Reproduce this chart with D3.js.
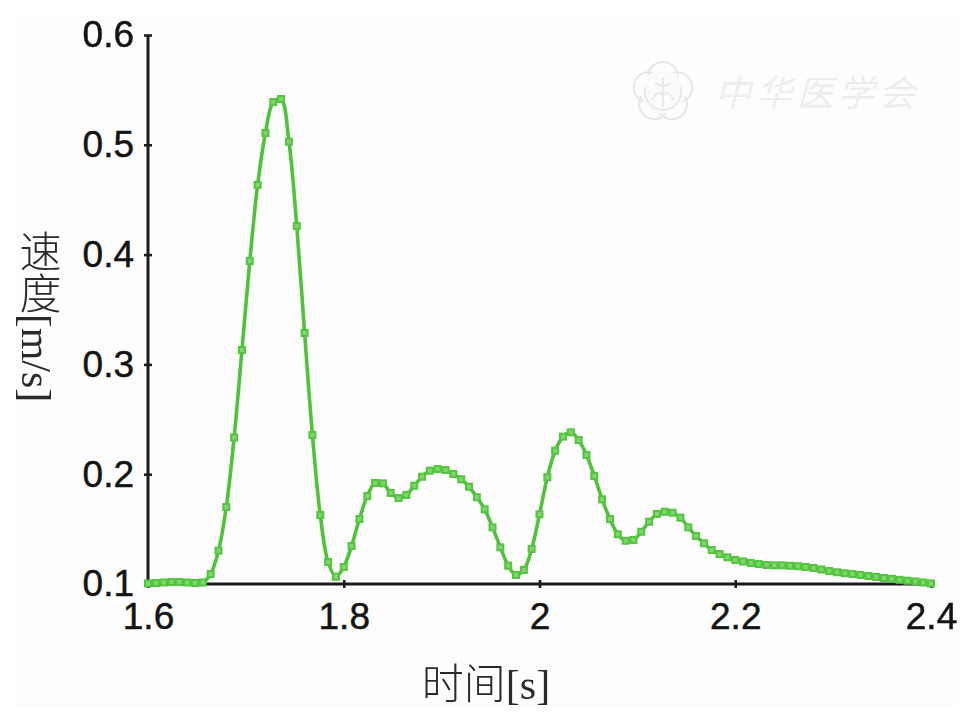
<!DOCTYPE html>
<html><head><meta charset="utf-8">
<script src="https://cdn.jsdelivr.net/npm/d3@7"></script>
<style>html,body{margin:0;padding:0;background:#fff}svg{display:block;filter:blur(.5px)}</style>
</head><body><svg id="c" width="973" height="715"></svg>
<script>
const xTickValues = [1.6, 1.8, 2.0, 2.2, 2.4];
const yTickValues = [0.1, 0.2, 0.3, 0.4, 0.5, 0.6];
const xLabel = "时间[s]";
const yLabel = "速度[m/s]";
const watermarkText = "中华医学会";
const sampleStep = 0.008;
const speed = [
0.1005,0.1009,0.1014,0.1018,0.1018,0.1014,0.1009,0.1014,0.1091,0.1303,
0.1701,0.2334,0.3131,0.3942,0.4634,0.5107,0.5390,0.5417,0.5028,0.4260,
0.3286,0.2357,0.1628,0.1200,0.1066,0.1155,0.1346,0.1592,0.1801,0.1920,
0.1917,0.1829,0.1783,0.1811,0.1895,0.1977,0.2032,0.2047,0.2038,0.2002,
0.1954,0.1886,0.1790,0.1680,0.1516,0.1334,0.1167,0.1082,0.1128,0.1319,
0.1635,0.1972,0.2214,0.2342,0.2382,0.2311,0.2175,0.1984,0.1771,0.1592,
0.1453,0.1394,0.1401,0.1476,0.1567,0.1638,0.1658,0.1649,0.1604,0.1516,
0.1437,0.1371,0.1310,0.1273,0.1243,0.1219,0.1205,0.1191,0.1182,0.1173,
0.1170,0.1170,0.1166,0.1162,0.1155,0.1146,0.1132,0.1118,0.1107,0.1098,
0.1091,0.1082,0.1073,0.1064,0.1055,0.1047,0.1038,0.1030,0.1023,0.1014,
0.1005];
const series = speed.map((v,i)=>({t:1.6+i*sampleStep,v}));

const svg = d3.select("#c");
svg.append("rect").attr("x",14).attr("y",16).attr("width",944).attr("height",691).attr("fill","#fdfdfd");

const x = d3.scaleLinear().domain([1.6,2.4]).range([148,931]);
const y = d3.scaleLinear().domain([0.1,0.6]).range([584,35]);
const fmt = d => String(+d.toFixed(1));

// watermark
const wm = svg.append("g").attr("transform","translate(663,92)");
const petals = d3.range(5).map(i=>i*72-90);
wm.selectAll("circle.p").data(petals).join("circle").attr("class","p")
  .attr("cx",d=>15*Math.cos(d*Math.PI/180)).attr("cy",d=>15*Math.sin(d*Math.PI/180))
  .attr("r",15).attr("fill","none").attr("stroke","#e6e6e6").attr("stroke-width",2);
wm.append("circle").attr("r",22).attr("fill","#fbfbfb");
wm.append("path").attr("d","M-17,-6A18,18 0 1 0 17,-6M0,-14V16M-8,-9Q0,-3 8,-9M-11,8Q-4,-4 0,4Q4,-4 11,8")
  .attr("fill","none").attr("stroke","#e8e8e8").attr("stroke-width",1.8);
svg.append("text").attr("x",715).attr("y",106).text(watermarkText)
  .attr("font-family","'Noto Sans CJK SC'").attr("font-size",36).attr("font-weight",300).attr("font-style","italic")
  .attr("letter-spacing",5).attr("fill","#f0f0f0").attr("stroke","#e6e6e6").attr("stroke-width",.4);

// axes
const xAxis = d3.axisBottom(x).tickValues(xTickValues).tickFormat(fmt).tickSize(4).tickPadding(15);
const yAxis = d3.axisLeft(y).tickValues(yTickValues).tickFormat(fmt).tickSize(4).tickPadding(12);
const style = g => {
  g.select(".domain").attr("stroke","#1d1a22").attr("stroke-width",3);
  g.selectAll(".tick line").attr("stroke","#1d1a22").attr("stroke-width",2.6);
  g.selectAll("text").attr("font-family","'Liberation Sans',Arial,sans-serif").attr("font-size",37)
    .attr("fill","#141414").attr("stroke","#141414").attr("stroke-width",.5);
};
svg.append("g").attr("transform","translate(0,584)").call(xAxis).call(style)
  .call(g=>{g.select(".domain").attr("d","M148,0H931");g.selectAll(".tick line").attr("y1",-4).attr("y2",4);});
svg.append("g").attr("transform","translate(148,0)").call(yAxis).call(style)
  .call(g=>{g.select(".domain").attr("d","M0,35V584");g.selectAll(".tick line").attr("x1",-4).attr("x2",4);
    g.selectAll("text").attr("x",-14);});

// series
const line = d3.line().x(d=>x(d.t)).y(d=>y(d.v)).curve(d3.curveCatmullRom);
svg.append("path").datum(series).attr("d",line).attr("fill","none").attr("stroke","#4fc23a").attr("stroke-width",3.6);
svg.append("g").selectAll("rect").data(series).join("rect")
  .attr("x",d=>x(d.t)-3).attr("y",d=>y(d.v)-3).attr("width",6).attr("height",6)
  .attr("fill","#7fd56e").attr("stroke","#55c440").attr("stroke-width",2);

// labels
const serif = "'Liberation Serif','Noto Sans CJK SC',serif";
svg.append("text").attr("x",486).attr("y",699).attr("text-anchor","middle").text(xLabel)
  .attr("font-family",serif).attr("font-size",42).attr("font-weight",300).attr("fill","#2a2a2a");
svg.append("text").attr("x",36).attr("y",316).attr("text-anchor","middle").text(yLabel)
  .style("writing-mode","vertical-rl").style("text-orientation","mixed")
  .attr("font-family",serif).attr("font-size",42).attr("font-weight",300).attr("fill","#2a2a2a");
</script></body></html>
